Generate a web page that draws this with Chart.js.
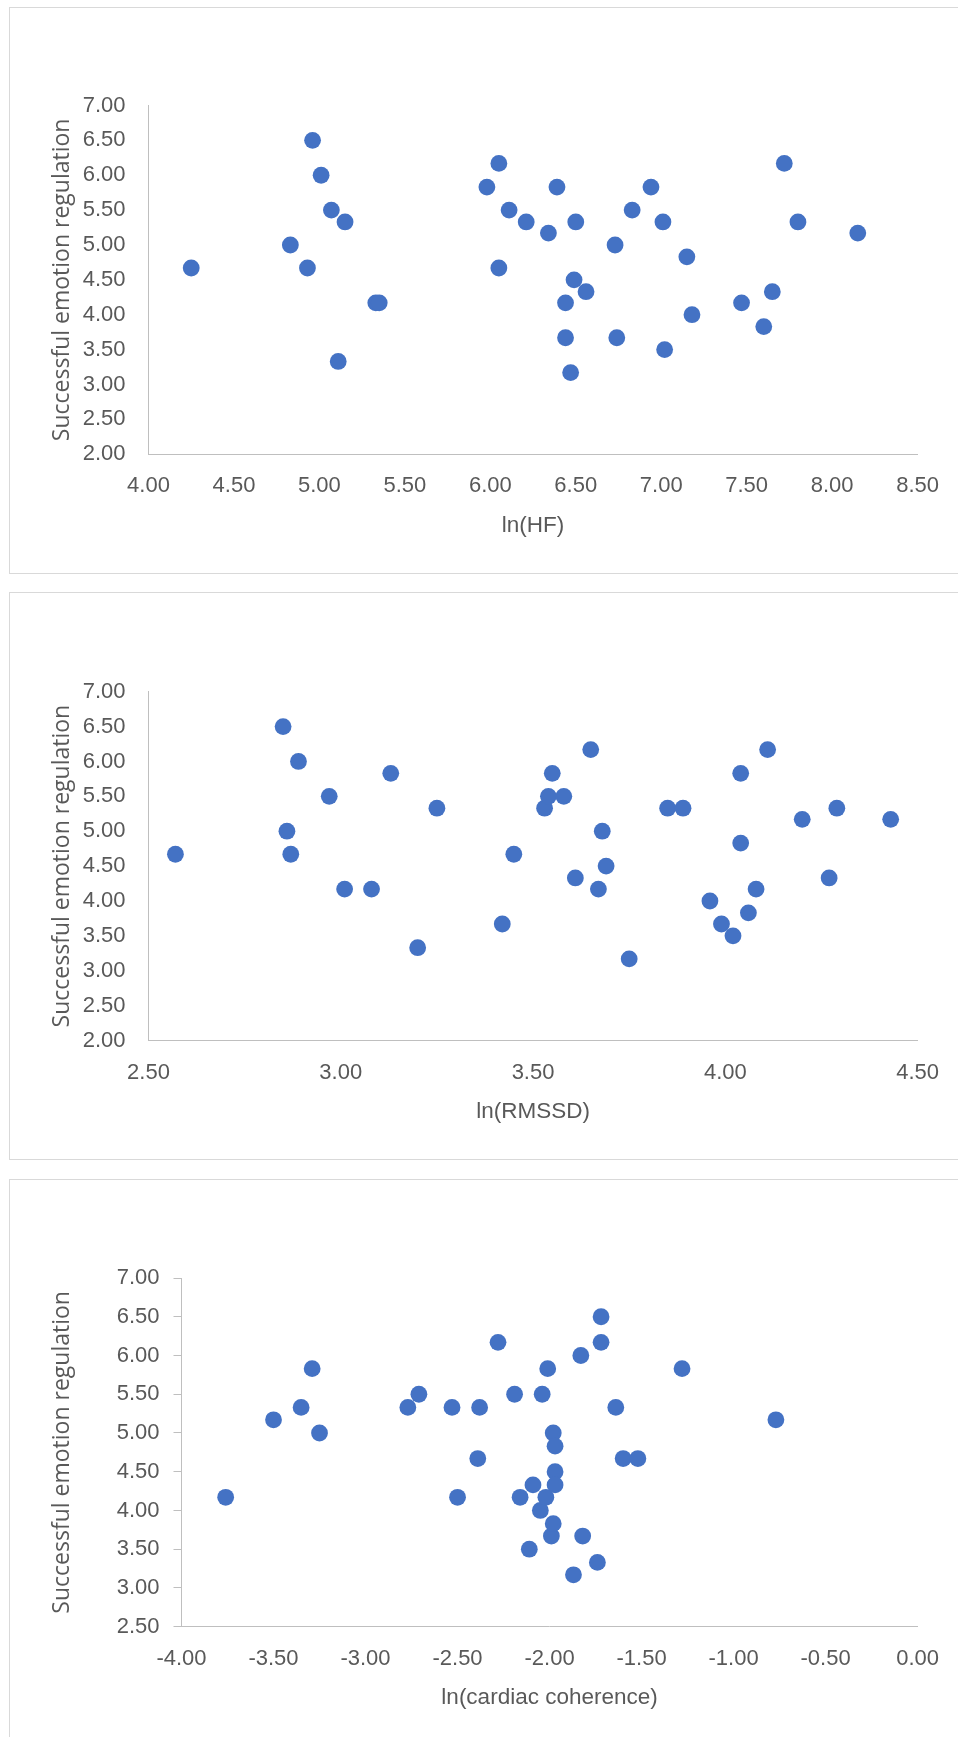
<!DOCTYPE html>
<html>
<head>
<meta charset="utf-8">
<script src="https://cdn.jsdelivr.net/npm/chart.js@4/dist/chart.umd.min.js"></script>
<style>
  html, body { margin: 0; padding: 0; background: #fff; }
  body { width: 958px; height: 1737px; position: relative; overflow: hidden; }
  .box { position: absolute; box-sizing: border-box; border: 1px solid #D9D9D9; border-right: none; }
  canvas { position: absolute; }
</style>
</head>
<body>
<div class="box" style="left:9px; top:7px; width:960px; height:567px;"></div>
<div class="box" style="left:9px; top:592px; width:960px; height:568px;"></div>
<div class="box" style="left:9px; top:1179px; width:960px; height:600px;"></div>
<canvas id="chartHF" width="949" height="566" style="left:9px; top:7px;"></canvas>
<canvas id="chartRMSSD" width="949" height="567" style="left:9px; top:592px;"></canvas>
<canvas id="chartCoh" width="949" height="558" style="left:9px; top:1179px;"></canvas>
<script>
// datos (y = regulación emocional, en pasos de 1/6)
const lnHF = [4.25, 4.83, 4.93, 4.96, 5.01, 5.07, 5.15, 5.11, 5.33, 5.35, 5.98, 6.05, 6.05, 6.11, 6.21, 6.34, 6.39, 6.44, 6.44,
  6.47, 6.49, 6.50, 6.56, 6.73, 6.74, 6.83, 6.94, 7.01, 7.02, 7.15, 7.18, 7.47, 7.60, 7.65, 7.72, 7.80, 8.15];
const regHF = [4.67, 5.00, 4.67, 6.50, 6.00, 5.50, 5.33, 3.33, 4.17, 4.17, 5.83, 6.17, 4.67, 5.50, 5.33, 5.17, 5.83, 4.17, 3.67,
  3.17, 4.50, 5.33, 4.33, 5.00, 3.67, 5.50, 5.83, 5.33, 3.50, 4.83, 4.00, 4.17, 3.83, 4.33, 6.17, 5.33, 5.17];

const lnRMSSD = [2.57, 2.85, 2.86, 2.87, 2.89, 2.97, 3.01, 3.08, 3.13, 3.20, 3.25, 3.42, 3.45, 3.53, 3.54, 3.55, 3.58, 3.61, 3.65,
  3.67, 3.68, 3.69, 3.75, 3.85, 3.89, 3.96, 3.99, 4.02, 4.04, 4.04, 4.06, 4.08, 4.11, 4.20, 4.27, 4.29, 4.43];
const regRMSSD = [4.67, 6.50, 5.00, 4.67, 6.00, 5.50, 4.17, 4.17, 5.83, 3.33, 5.33, 3.67, 4.67, 5.33, 5.50, 5.83, 5.50, 4.33, 6.17,
  4.17, 5.00, 4.50, 3.17, 5.33, 5.33, 4.00, 3.67, 3.50, 5.83, 4.83, 3.83, 4.17, 6.17, 5.17, 4.33, 5.33, 5.17];

const lnCoh = [-3.76, -3.50, -3.35, -3.29, -3.25, -2.77, -2.71, -2.53, -2.50, -2.39, -2.38, -2.28, -2.19, -2.16, -2.11, -2.09, -2.05,
  -2.04, -2.02, -2.01, -1.99, -1.98, -1.97, -1.98, -1.97, -1.97, -1.87, -1.83, -1.82, -1.74, -1.72, -1.72, -1.64, -1.60, -1.52, -1.28, -0.77];
const regCoh = [4.17, 5.17, 5.33, 5.83, 5.00, 5.33, 5.50, 5.33, 4.17, 4.67, 5.33, 6.17, 5.50, 4.17, 3.50, 4.33, 4.00,
  5.50, 4.17, 5.83, 3.67, 5.00, 4.50, 3.83, 4.33, 4.83, 3.17, 6.00, 3.67, 3.33, 6.50, 6.17, 5.33, 4.67, 4.67, 5.83, 5.17];

const yTitle = 'Successful emotion regulation';
const textColor = '#595959';
const axisColor = '#BFBFBF';
const tickFont = { family: "'Liberation Sans', Arial, sans-serif", size: 22 };

function cargarDispersion(id, xs, ys, cfg) {
  const puntos = xs.map((x, i) => ({ x: x, y: ys[i] }));
  new Chart(document.getElementById(id), {
    type: 'scatter',
    data: {
      datasets: [{
        data: puntos,
        backgroundColor: '#4472C4',
        borderColor: '#4472C4',
        borderWidth: 0,
        pointRadius: 8.4,
        pointHoverRadius: 8.4
      }]
    },
    options: {
      responsive: false,
      animation: false,
      events: [],
      layout: { padding: { left: 0, top: cfg.top, right: cfg.right, bottom: cfg.bottom } },
      plugins: { legend: { display: false }, tooltip: { enabled: false } },
      scales: {
        x: {
          type: 'linear',
          min: cfg.xMin, max: cfg.xMax,
          afterFit: s => { s.height = cfg.xHeight; },
          ticks: {
            stepSize: 0.5, color: textColor, font: tickFont, padding: 19, maxRotation: 0,
            callback: v => v.toFixed(2)
          },
          grid: { display: false, drawTicks: false },
          border: { display: true, color: axisColor, width: 1 },
          title: {
            display: true, text: cfg.xTitle, color: textColor,
            font: { family: "'Liberation Sans', Arial, sans-serif", size: 22.5 },
            padding: { top: 0, bottom: 15 }
          }
        },
        y: {
          type: 'linear',
          min: cfg.yMin, max: 7,
          afterFit: s => { s.width = cfg.yWidth; },
          ticks: {
            stepSize: 0.5, color: textColor, font: tickFont, padding: cfg.yTickPad,
            callback: v => v.toFixed(2)
          },
          grid: cfg.yTicks
            ? { display: true, drawOnChartArea: false, drawTicks: true, tickLength: 8, color: axisColor }
            : { display: false, drawTicks: false },
          border: { display: true, color: axisColor, width: 1 },
          title: {
            display: true, text: yTitle, color: textColor,
            font: { family: "'Open Sans', sans-serif", size: 23 },
            padding: { top: 40, bottom: 0 }
          }
        }
      }
    }
  });
}

cargarDispersion('chartHF', lnHF, regHF, {
  xMin: 4, xMax: 8.5, yMin: 2, xTitle: 'ln(HF)',
  top: 98.5, right: 38.5, bottom: 19, xHeight: 99.8, yWidth: 139.5, yTickPad: 23, yTicks: false
});
cargarDispersion('chartRMSSD', lnRMSSD, regRMSSD, {
  xMin: 2.5, xMax: 4.5, yMin: 2, xTitle: 'ln(RMSSD)',
  top: 99.7, right: 38.5, bottom: 19, xHeight: 99.5, yWidth: 139.5, yTickPad: 23, yTicks: false
});
cargarDispersion('chartCoh', lnCoh, regCoh, {
  xMin: -4, xMax: 0, yMin: 2.5, xTitle: 'ln(cardiac coherence)',
  top: 99, right: 38.5, bottom: 10.3, xHeight: 100, yWidth: 172.5, yTickPad: 14, yTicks: true
});
</script>
</body>
</html>
